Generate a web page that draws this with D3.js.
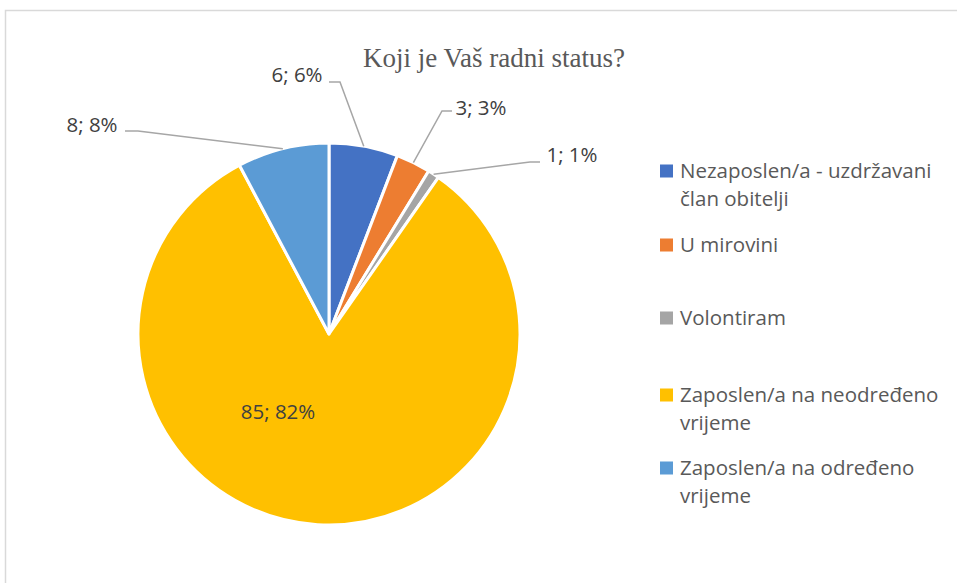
<!DOCTYPE html>
<html>
<head>
<meta charset="utf-8">
<script src="https://cdn.jsdelivr.net/npm/d3@7"></script>
<style>
  body { margin: 0; background: #fff; }
  svg { display: block; }
</style>
</head>
<body>
<svg id="chart"></svg>
<script>
// chart data
const categories = ["Nezaposlen/a - uzdržavani član obitelji", "U mirovini", "Volontiram",
  "Zaposlen/a na neodređeno vrijeme", "Zaposlen/a na određeno vrijeme"];
const counts = [6, 3, 1, 85, 8];
const percents = [6, 3, 1, 82, 8];
const colors = ["#4472C4", "#ED7D31", "#A5A5A5", "#FFC000", "#5B9BD5"];
// legend lines (wrapped like the original)
const legendLines = [["Nezaposlen/a - uzdržavani", "član obitelji"], ["U mirovini"], ["Volontiram"],
  ["Zaposlen/a na neodređeno", "vrijeme"], ["Zaposlen/a na određeno", "vrijeme"]];

const width = 957, height = 583;
const cx = 329, cy = 334, radius = 191;
const labelFont = "'Open Sans', sans-serif";

const svg = d3.select('#chart')
  .attr('width', width)
  .attr('height', height);

// chart frame
svg.append('rect')
  .attr('x', 5.5).attr('y', 10.5)
  .attr('width', width + 10).attr('height', height + 10)
  .style('fill', 'none')
  .style('stroke', '#d9d9d9')
  .style('stroke-width', 1.5);

// title
svg.append('text')
  .attr('x', 494).attr('y', 67)
  .attr('text-anchor', 'middle')
  .style('font-family', "'Liberation Serif', 'Times New Roman', serif")
  .style('font-size', '27px')
  .style('fill', '#595959')
  .text("Koji je Vaš radni status?");

const pie = d3.pie().sort(null).value(d => d);
const arcs = pie(counts);
const arc = d3.arc().innerRadius(0).outerRadius(radius);
const edge = d3.arc().innerRadius(radius).outerRadius(radius);

const plot = svg.append('g')
  .attr('transform', `translate(${cx},${cy})`);

plot.selectAll('path')
  .data(arcs)
  .enter().append('path')
  .attr('d', arc)
  .style('fill', (d, i) => colors[i])
  .style('stroke', '#fff')
  .style('stroke-width', 3)
  .style('stroke-linejoin', 'round');

// label placement (relative to pie centre): text centre, and elbow of leader line
const labelPos = [
  { x: -32, y: -259, elbow: [[0, -252], [11, -252]] },
  { x: 152, y: -226, elbow: [[123, -223], [113, -223]] },
  { x: 243, y: -179, elbow: [[211, -172], [201, -172]] },
  { x: -51, y: 78, elbow: null },
  { x: -237, y: -209, elbow: [[-204, -203], [-191, -203]] }
];

arcs.forEach((d, i) => {
  const p = labelPos[i];
  if (p.elbow) {
    const end = edge.centroid(d);
    const pts = [p.elbow[0], p.elbow[1], end];
    plot.append('path')
      .attr('d', d3.line()(pts))
      .style('fill', 'none')
      .style('stroke', '#a6a6a6')
      .style('stroke-width', 1.5);
  }
  plot.append('text')
    .attr('x', p.x).attr('y', p.y)
    .attr('text-anchor', 'middle')
    .attr('dy', '0.35em')
    .style('font-family', labelFont)
    .style('font-size', '20.5px')
    .style('fill', '#404040')
    .text(counts[i] + "; " + percents[i] + "%");
});

// legend
const legendY = [171, 245, 318, 395, 468];
const legend = svg.append('g');
categories.forEach((c, i) => {
  const g = legend.append('g').attr('transform', `translate(660,${legendY[i]})`);
  g.append('rect')
    .attr('x', 0).attr('y', -6.5)
    .attr('width', 13).attr('height', 13)
    .style('fill', colors[i]);
  legendLines[i].forEach((line, j) => {
    g.append('text')
      .attr('x', 20).attr('y', j * 28)
      .attr('dy', '0.35em')
      .style('font-family', labelFont)
      .style('font-size', '20.5px')
      .style('fill', '#595959')
      .text(line);
  });
});
</script>
</body>
</html>
